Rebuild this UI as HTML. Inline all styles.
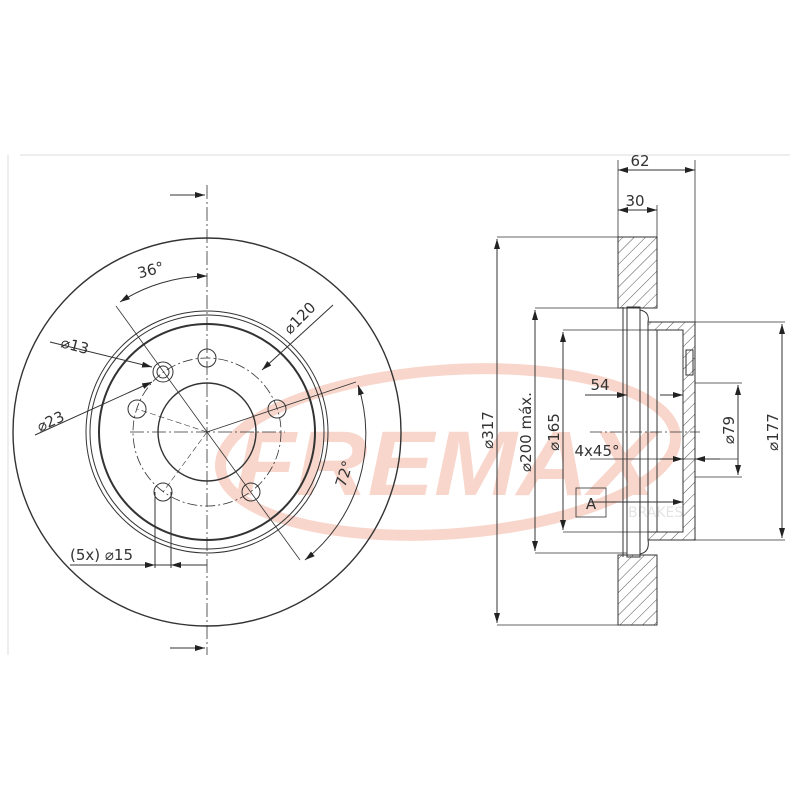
<!DOCTYPE html>
<html><head><meta charset="utf-8"><style>body{margin:0;background:#fff}svg{display:block}text{font-family:"DejaVu Sans","Liberation Sans",sans-serif;fill:#333}</style></head><body>
<svg width="800" height="800" viewBox="0 0 800 800" xmlns="http://www.w3.org/2000/svg">
<defs>
<pattern id="h" width="8" height="8" patternUnits="userSpaceOnUse" patternTransform="rotate(45)"><line x1="0" y1="0" x2="0" y2="8" stroke="#555" stroke-width="1"/></pattern>
<marker id="a" markerWidth="10" markerHeight="6" refX="10" refY="3" orient="auto-start-reverse" markerUnits="userSpaceOnUse"><path d="M0,0L10,3L0,6z" fill="#222"/></marker>
</defs>
<line x1="20" y1="155" x2="790" y2="155" stroke="#ddd"/>
<line x1="8" y1="155" x2="8" y2="655" stroke="#ddd"/>
<!-- watermark -->
<g opacity="0.4">
<ellipse cx="448" cy="452" rx="228" ry="82" fill="none" stroke="#f09a80" stroke-width="11" transform="rotate(-4 448 452)"/>
<text x="445" y="495" text-anchor="middle" font-size="92" font-weight="bold" font-style="italic" style="fill:#f09a80;font-family:'Liberation Sans',sans-serif" textLength="420" lengthAdjust="spacingAndGlyphs">FREMAX</text>
<text x="628" y="517" font-size="14" style="fill:#bbb">BRAKES</text>
</g>
<g fill="none" stroke="#333" stroke-width="1">
<circle cx="207" cy="432" r="194" stroke-width="1.4"/>
<circle cx="207" cy="432" r="121"/>
<circle cx="207" cy="432" r="117"/>
<circle cx="207" cy="432" r="108" stroke-width="2"/>
<circle cx="207" cy="432" r="49" stroke-width="1.4"/>
<circle cx="207" cy="432" r="74" stroke-dasharray="10,3,2,3" stroke-width="0.8"/>
<line x1="207" y1="185" x2="207" y2="655" stroke-dasharray="14,3,2,3" stroke-width="0.8"/>
<line x1="130" y1="432" x2="285" y2="432" stroke-dasharray="14,3,2,3" stroke-width="0.8"/>
<circle cx="207" cy="358" r="9"/>
<circle cx="137" cy="409" r="9"/>
<circle cx="163" cy="492" r="9"/>
<circle cx="251" cy="492" r="9"/>
<circle cx="277" cy="409" r="9"/>
<circle cx="163" cy="372" r="10"/>
<circle cx="163" cy="372" r="6"/>
<line x1="207" y1="432" x2="116" y2="306" stroke-width="0.8"/>
<line x1="207" y1="432" x2="356" y2="382" stroke-width="0.8"/>
<line x1="207" y1="432" x2="300" y2="560" stroke-width="0.8"/>
<line x1="207" y1="432" x2="163" y2="492" stroke-width="0.6" stroke-dasharray="6,3"/>
<line x1="207" y1="432" x2="137" y2="409" stroke-width="0.6" stroke-dasharray="6,3"/>
<path d="M120,302 A165,165 0 0 1 207,276" marker-start="url(#a)" marker-end="url(#a)"/>
<path d="M358,385 A160,160 0 0 1 305,560" marker-start="url(#a)" marker-end="url(#a)"/>
<line x1="333" y1="305" x2="262" y2="370" marker-end="url(#a)"/>
<line x1="50" y1="342" x2="152" y2="367" marker-end="url(#a)"/>
<line x1="35" y1="435" x2="152" y2="382" marker-end="url(#a)"/>
<line x1="70" y1="565" x2="207" y2="565"/>
<line x1="155" y1="492" x2="155" y2="568"/>
<line x1="171" y1="492" x2="171" y2="568"/>
<line x1="130" y1="565" x2="155" y2="565" marker-end="url(#a)"/>
<line x1="200" y1="565" x2="171" y2="565" marker-end="url(#a)"/>
<line x1="170" y1="195" x2="205" y2="195" marker-end="url(#a)"/>
<line x1="170" y1="648" x2="205" y2="648" marker-end="url(#a)"/>
<path d="M618,237 H657 V308 H618 Z M618,555 H657 V625 H618 Z" fill="url(#h)"/>
<path d="M648,322 H695 V540 H648 V532 H683 V330 H648 Z" fill="url(#h)"/>
<rect x="627" y="307" width="13" height="250"/>
<line x1="623" y1="307" x2="623" y2="557"/>
<line x1="648" y1="322" x2="648" y2="540"/>
<line x1="657" y1="330" x2="657" y2="532"/>
<path d="M640,310 Q650,312 648,322 M640,554 Q650,552 648,540"/>
<rect x="686" y="350" width="7" height="25"/>
<g stroke-width="0.8">
<line x1="618" y1="160" x2="618" y2="237"/><line x1="695" y1="160" x2="695" y2="322"/><line x1="657" y1="205" x2="657" y2="237"/>
<line x1="497" y1="237" x2="618" y2="237"/><line x1="497" y1="625" x2="618" y2="625"/>
<line x1="535" y1="308" x2="627" y2="308"/><line x1="535" y1="553" x2="627" y2="553"/>
<line x1="563" y1="330" x2="648" y2="330"/><line x1="563" y1="532" x2="648" y2="532"/>
<line x1="695" y1="322" x2="785" y2="322"/><line x1="695" y1="540" x2="785" y2="540"/>
<line x1="695" y1="383" x2="742" y2="383"/><line x1="695" y1="477" x2="742" y2="477"/>
<line x1="590" y1="432" x2="700" y2="432" stroke-dasharray="12,3,2,3"/>
<line x1="590" y1="459" x2="738" y2="459"/>
</g>
<line x1="618" y1="170" x2="695" y2="170" marker-start="url(#a)" marker-end="url(#a)"/>
<line x1="618" y1="210" x2="657" y2="210" marker-start="url(#a)" marker-end="url(#a)"/>
<line x1="497" y1="239" x2="497" y2="623" marker-start="url(#a)" marker-end="url(#a)"/>
<line x1="535" y1="310" x2="535" y2="551" marker-start="url(#a)" marker-end="url(#a)"/>
<line x1="563" y1="332" x2="563" y2="530" marker-start="url(#a)" marker-end="url(#a)"/>
<line x1="782" y1="324" x2="782" y2="538" marker-start="url(#a)" marker-end="url(#a)"/>
<line x1="738" y1="385" x2="738" y2="475" marker-start="url(#a)" marker-end="url(#a)"/>
<line x1="585" y1="395" x2="627" y2="395" marker-end="url(#a)"/>
<line x1="660" y1="395" x2="683" y2="395" marker-end="url(#a)"/>
<line x1="660" y1="459" x2="683" y2="459" marker-end="url(#a)"/>
<line x1="720" y1="459" x2="695" y2="459" marker-end="url(#a)"/>
<line x1="590" y1="502" x2="683" y2="502" marker-end="url(#a)"/>
<rect x="576" y="488" width="30" height="29" stroke-width="0.8"/>
</g>
<g font-size="15">
<text x="640" y="166" text-anchor="middle">62</text>
<text x="635" y="206" text-anchor="middle">30</text>
<text x="600" y="390" text-anchor="middle">54</text>
<text x="597" y="456" text-anchor="middle">4x45°</text>
<text x="591" y="509" text-anchor="middle">A</text>
<text x="152" y="275" text-anchor="middle" transform="rotate(-15 152 275)">36°</text>
<text x="60" y="347" transform="rotate(15 60 347)">⌀13</text>
<text x="40" y="432" transform="rotate(-25 40 432)">⌀23</text>
<text x="290" y="335" transform="rotate(-45 290 335)">⌀120</text>
<text x="345" y="488" transform="rotate(-72 345 488)">72°</text>
<text x="70" y="560">(5x) ⌀15</text>
<g transform="rotate(-90)">
<text x="-430" y="493" text-anchor="middle">⌀317</text>
<text x="-432" y="531" text-anchor="middle">⌀200 máx.</text>
<text x="-432" y="559" text-anchor="middle">⌀165</text>
<text x="-430" y="734" text-anchor="middle">⌀79</text>
<text x="-432" y="778" text-anchor="middle">⌀177</text>
</g>
</g>
</svg>
</body></html>
